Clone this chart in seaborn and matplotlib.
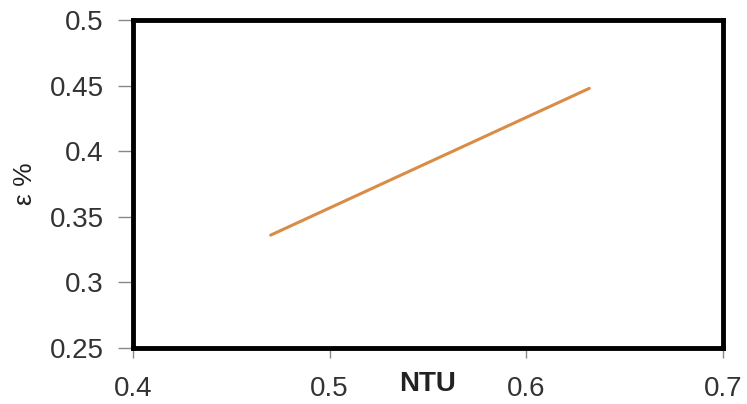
import matplotlib
matplotlib.use("Agg")
import matplotlib.pyplot as plt
import seaborn as sns
import pandas as pd

# data
ntu = [0.47, 0.632]
eff = [0.336, 0.448]
x_ticks = [0.4, 0.5, 0.6, 0.7]
y_ticks = [0.25, 0.3, 0.35, 0.4, 0.45, 0.5]

df = pd.DataFrame({"NTU": ntu, "eff": eff})

sns.set_style("white")
plt.rcParams['font.family'] = ['Liberation Sans', 'DejaVu Sans']

fig = plt.figure(figsize=(7.47, 4.04), dpi=100)
ax = fig.add_axes([0.178, 0.139, 0.79, 0.811])

sns.lineplot(data=df, x="NTU", y="eff", ax=ax, color="#D98C45", linewidth=2.2)

ax.set_xlim(0.4, 0.7)
ax.set_ylim(0.25, 0.5)
ax.set_xticks(x_ticks)
ax.set_xticklabels([str(t) for t in x_ticks], fontsize=20, color="#333333")
ax.set_yticks(y_ticks)
ax.set_yticklabels([str(t) for t in y_ticks], fontsize=20, color="#333333")
ax.tick_params(axis="y", direction="out", length=11, width=1, color="#888888",
               pad=10, left=True)
ax.tick_params(axis="x", direction="out", length=7, width=1, color="#888888",
               pad=13, bottom=True)

for s in ax.spines.values():
    s.set_color("black")
    s.set_linewidth(3.5)

ax.set_xlabel("NTU", fontsize=20, fontweight="bold", color="#222222")
ax.xaxis.set_label_coords(0.5, -0.07)
ax.set_ylabel("\u03b5 %", fontsize=19, color="#222222")
ax.yaxis.set_label_coords(-0.162, 0.5)

fig.savefig("out.png", dpi=100)
